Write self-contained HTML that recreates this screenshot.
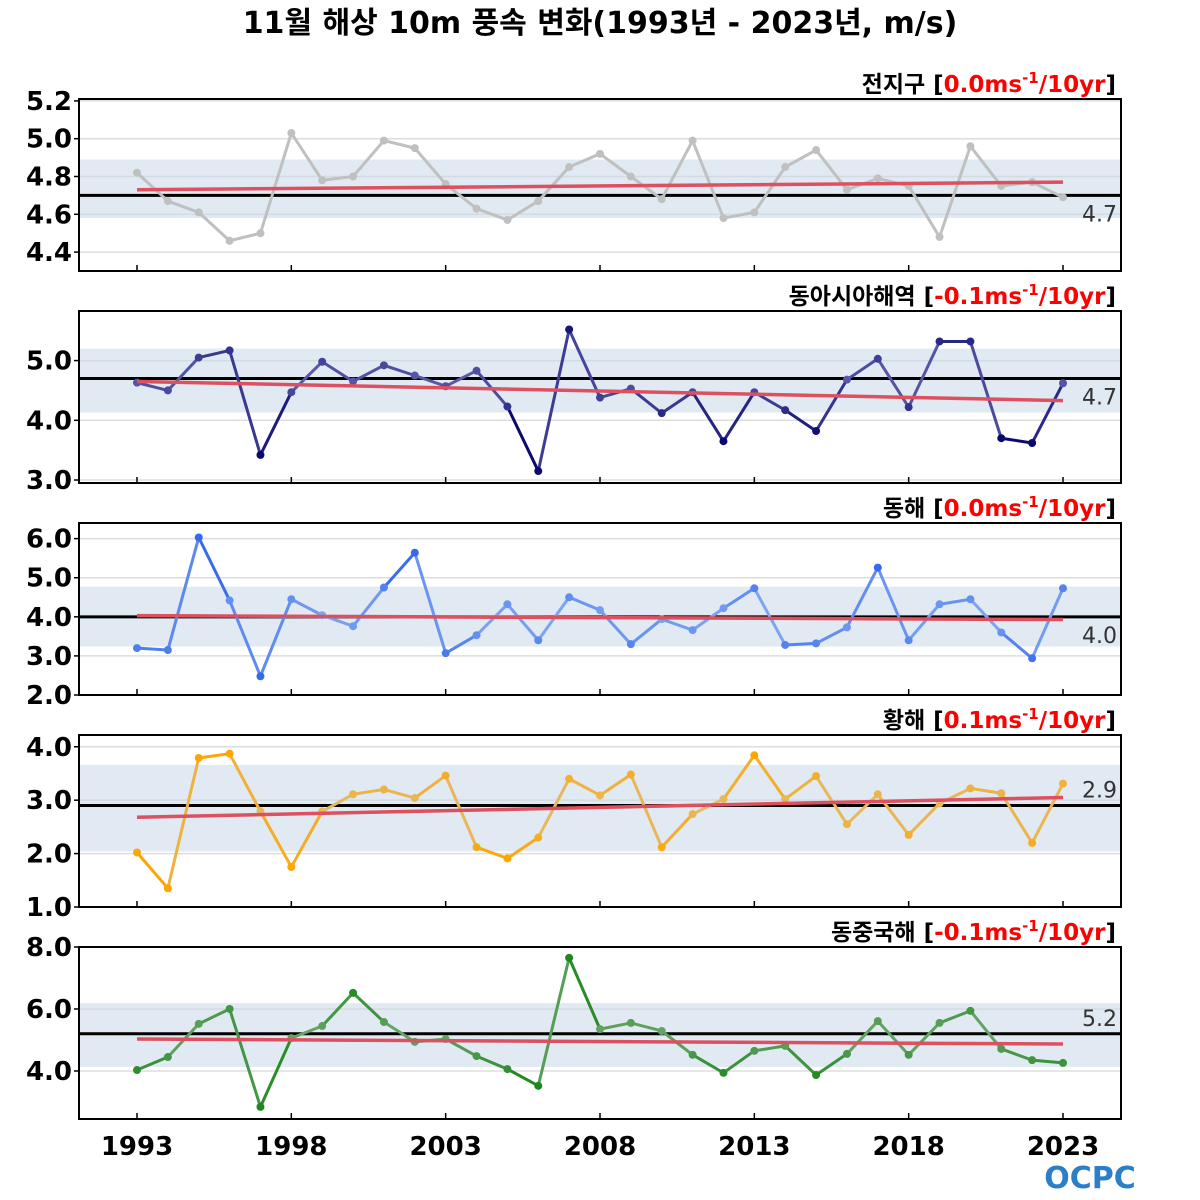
<!DOCTYPE html>
<html><head><meta charset="utf-8"><style>
html,body{margin:0;padding:0;background:#fff;}
svg{display:block;font-family:"DejaVu Sans","Liberation Sans","Noto Sans CJK KR",sans-serif;}
</style></head><body>
<svg id="chart" width="1200" height="1200" viewBox="0 0 1200 1200">
<text x="600" y="33" text-anchor="middle" font-size="30" font-weight="bold" font-family="'DejaVu Sans','Noto Sans CJK KR',sans-serif">11월 해상 10m 풍속 변화(1993년 - 2023년, m/s)</text>
<g id="logo">
<text x="1090" y="1188" text-anchor="middle" font-size="30" font-weight="bold" fill="#2a7fc8" font-family="'DejaVu Sans',sans-serif">OCPC</text>
</g>
</svg>
<script>
const years = [];
for (let y = 1993; y <= 2023; y++) years.push(y);
const xTickYears = [1993, 1998, 2003, 2008, 2013, 2018, 2023];

const globalVals = [4.82,4.67,4.61,4.46,4.50,5.03,4.78,4.80,4.99,4.95,4.76,4.63,4.57,4.67,4.85,4.92,4.80,4.68,4.99,4.58,4.61,4.85,4.94,4.73,4.79,4.75,4.48,4.96,4.75,4.77,4.69];
const eastAsiaVals = [4.63,4.50,5.05,5.17,3.42,4.47,4.98,4.65,4.92,4.75,4.57,4.83,4.23,3.15,5.52,4.38,4.53,4.12,4.47,3.65,4.47,4.17,3.82,4.68,5.03,4.22,5.32,5.32,3.70,3.62,4.62];
const eastSeaVals = [3.20,3.15,6.03,4.42,2.48,4.45,4.04,3.76,4.75,5.64,3.07,3.53,4.32,3.40,4.50,4.17,3.30,3.94,3.66,4.22,4.73,3.28,3.32,3.73,5.26,3.40,4.32,4.45,3.60,2.94,4.73];
const yellowSeaVals = [2.02,1.35,3.79,3.87,2.79,1.75,2.79,3.11,3.20,3.04,3.46,2.12,1.91,2.30,3.40,3.09,3.48,2.12,2.74,3.02,3.84,3.02,3.45,2.55,3.11,2.35,2.94,3.22,3.13,2.20,3.31];
const ecsVals = [4.03,4.45,5.52,6.00,2.84,5.06,5.45,6.52,5.58,4.94,5.03,4.48,4.06,3.52,7.65,5.35,5.55,5.29,4.52,3.94,4.65,4.81,3.87,4.55,5.61,4.52,5.55,5.94,4.71,4.35,4.26];

const panelNames = ["전지구","동아시아해역","동해","황해","동중국해"];
const trendLabels = ["0.0","-0.1","0.0","0.1","-0.1"];
const meanVals = [4.7,4.7,4.0,2.9,5.2];
const meanLabels = ["4.7","4.7","4.0","2.9","5.2"];
const meanLabelBelow = [true,true,true,false,false];
const bandLow = [4.58,4.13,3.24,2.04,4.13];
const bandHigh = [4.89,5.20,4.77,3.66,6.19];
const trendStart = [4.73,4.65,4.03,2.68,5.03];
const trendEnd = [4.77,4.33,3.93,3.05,4.87];
const yMin = [4.30,2.95,2.0,1.0,2.45];
const yMax = [5.21,5.83,6.4,4.22,8.0];
const yTicks = [[4.4,4.6,4.8,5.0,5.2],[3.0,4.0,5.0],[2.0,3.0,4.0,5.0,6.0],[1.0,2.0,3.0,4.0],[4.0,6.0,8.0]];
const yTickLabels = [["4.4","4.6","4.8","5.0","5.2"],["3.0","4.0","5.0"],["2.0","3.0","4.0","5.0","6.0"],["1.0","2.0","3.0","4.0"],["4.0","6.0","8.0"]];
const series = [globalVals,eastAsiaVals,eastSeaVals,yellowSeaVals,ecsVals];
const nearColor = [[192,192,192],[90,90,170],[125,165,240],[230,185,100],[105,165,105]];
const farColor = [[192,192,192],[10,10,110],[55,105,240],[255,165,0],[30,135,30]];

const NS = "http://www.w3.org/2000/svg";
const svg = document.getElementById("chart");
const X0 = 79, X1 = 1121;
const panelTop = [99,311,523,735,947], panelH = 172;
function xs(yr){ return 137 + (yr-1993)*(1063-137)/30; }
function mk(tag, attrs, parent){ const e=document.createElementNS(NS,tag); for(const k in attrs) e.setAttribute(k,attrs[k]); (parent||svg).appendChild(e); return e; }

for (let p=0;p<5;p++){
  const top=panelTop[p], bot=top+panelH;
  const ys = v => bot - (v - yMin[p])/(yMax[p]-yMin[p])*panelH;
  const g = mk("g",{});
  
  
  yTicks[p].forEach((t,i)=>{
    const y=ys(t);
    const gl=mk("line",{x1:X0,x2:X1,y1:y,y2:y,stroke:"#dddddd","stroke-width":1.5},g);
    
    
    mk("line",{x1:X0-5,x2:X0,y1:y,y2:y,stroke:"#000","stroke-width":1.5},g);
    const tl=mk("text",{x:72,y:y+9,"text-anchor":"end","font-size":26,"font-weight":"bold"},g);
    tl.textContent=yTickLabels[p][i];
    
    
  });
  const b=mk("rect",{x:X0,width:X1-X0,y:ys(bandHigh[p]),height:ys(bandLow[p])-ys(bandHigh[p]),fill:"#c9d8e8","fill-opacity":0.55},g);
  
  
  xTickYears.forEach(yr=>{ mk("line",{x1:xs(yr),x2:xs(yr),y1:bot,y2:bot-6,stroke:"#000","stroke-width":1.5},g); });
  const m=mk("line",{x1:X0,x2:X1,y1:ys(meanVals[p]),y2:ys(meanVals[p]),stroke:"#000","stroke-width":3},g);
  
  
  const ml=mk("text",{x:1117,y:ys(meanVals[p])+(meanLabelBelow[p]?26:-8),"text-anchor":"end","font-size":22,fill:"#333"},g);
  ml.textContent=meanLabels[p];
  
  
  const vals=series[p];
  let maxDev=0; vals.forEach(v=>{maxDev=Math.max(maxDev,Math.abs(v-meanVals[p]));});
  const col = v => { const f=Math.min(1,Math.abs(v-meanVals[p])/maxDev*1.6); const c=nearColor[p].map((n,i)=>Math.round(n+(farColor[p][i]-n)*f)); return "rgb("+c.join(",")+")"; };
  for(let i=0;i<vals.length-1;i++){
    const seg=mk("line",{x1:xs(years[i]),y1:ys(vals[i]),x2:xs(years[i+1]),y2:ys(vals[i+1]),stroke:col((vals[i]+vals[i+1])/2),"stroke-width":3,"stroke-linecap":"round"},g);
    
    
  }
  vals.forEach((v,i)=>{
    const c=mk("circle",{cx:xs(years[i]),cy:ys(v),r:4,fill:col(v)},g);
    
    
  });
  const tr=mk("line",{x1:xs(1993),x2:xs(2023),y1:ys(trendStart[p]),y2:ys(trendEnd[p]),stroke:"#dc5060","stroke-width":3.5},g);
  
  
  const fr=mk("rect",{x:X0,y:top,width:X1-X0,height:panelH,fill:"none",stroke:"#000","stroke-width":2},g);
  
  
  const lab=mk("text",{x:1116,y:top-7,"text-anchor":"end","font-size":23,"font-weight":"bold"},g);
  
  
  const t1=mk("tspan",{},lab); t1.textContent=panelNames[p]+" [";
  const t2=mk("tspan",{fill:"#ff0000"},lab); t2.textContent=trendLabels[p]+"ms";
  const t3=mk("tspan",{fill:"#ff0000",dy:-9,"font-size":15},lab); t3.textContent="-1";
  const t4=mk("tspan",{fill:"#ff0000",dy:9},lab); t4.textContent="/10yr";
  const t5=mk("tspan",{},lab); t5.textContent="]";
}
xTickYears.forEach(yr=>{
  const t=mk("text",{x:xs(yr),y:1155,"text-anchor":"middle","font-size":26,"font-weight":"bold"});
  t.textContent=String(yr);
  
  
});
</script>
</body></html>
